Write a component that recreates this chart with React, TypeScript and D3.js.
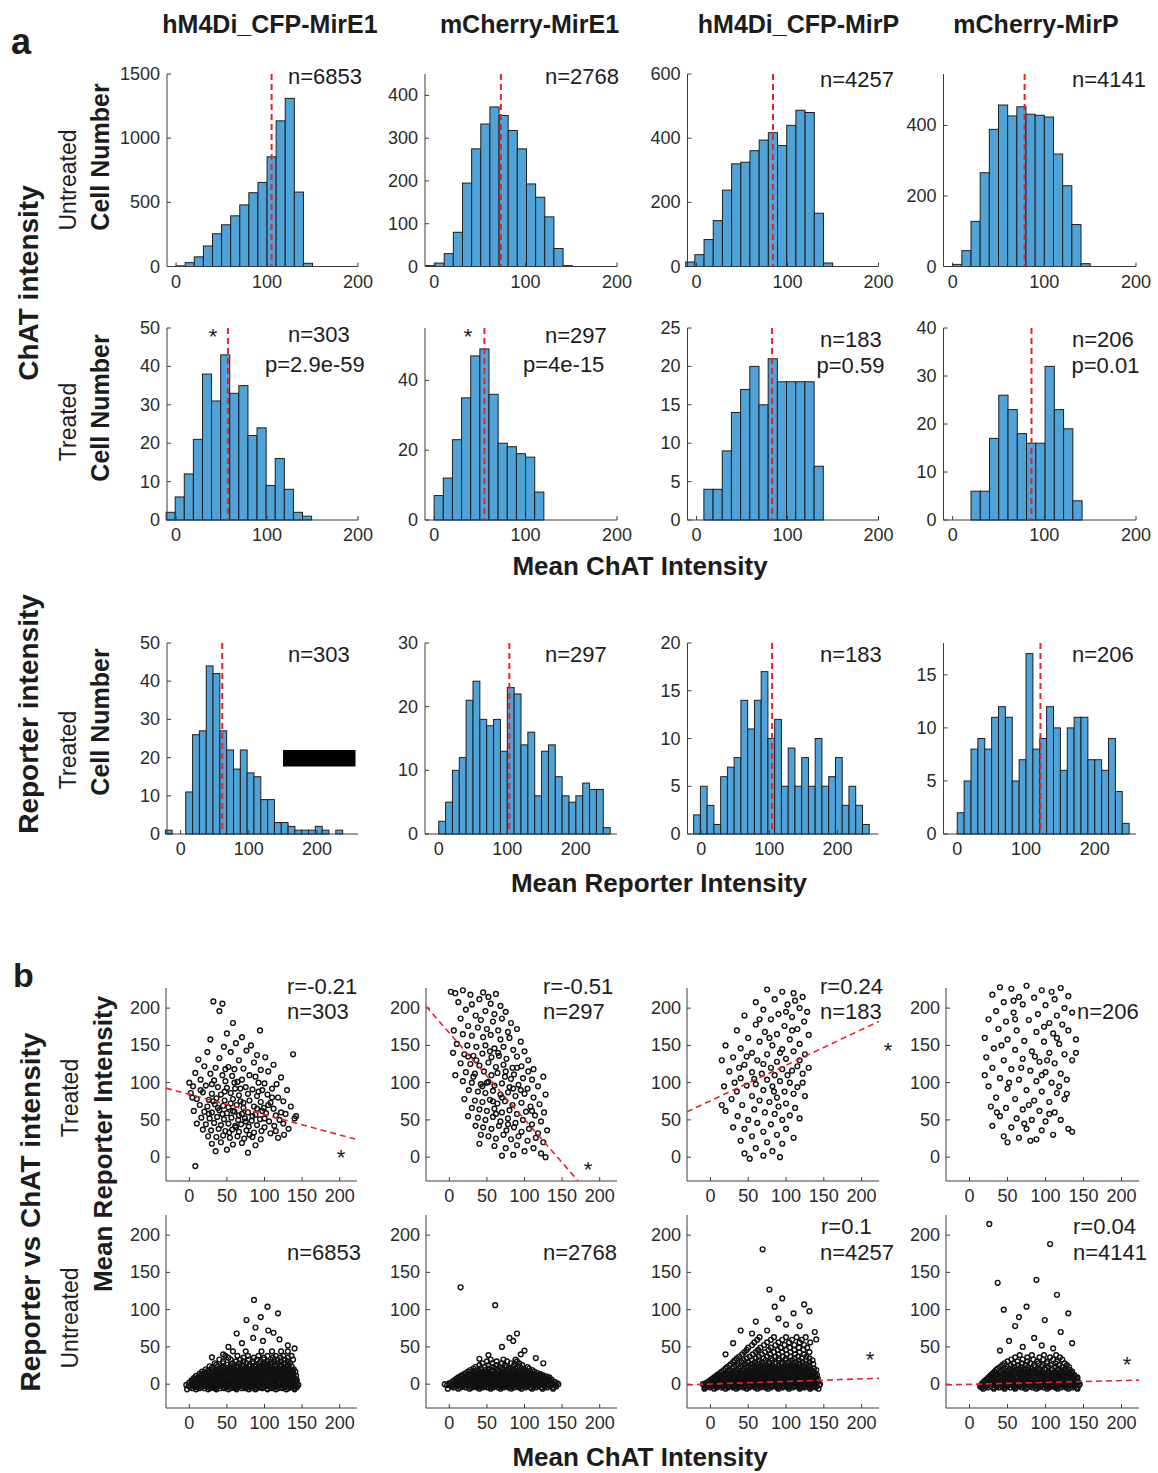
import React from "react";
import * as d3 from "d3";

const FONT = '"Liberation Sans", Arial, Helvetica, sans-serif';
const BAR = "#4fa3d9";
const RED = "#e5232a";
const INK = "#1c1c1c";
const AX = "#3c3c3c";

const columns = ["hM4Di_CFP-MirE1", "mCherry-MirE1", "hM4Di_CFP-MirP", "mCherry-MirP"];

// ---------- Row 1: untreated, ChAT intensity ----------
const untreatedChatCounts = [
  [5, 30, 75, 160, 255, 325, 395, 480, 575, 655, 855, 1135, 1310, 580, 25],
  [2, 8, 30, 80, 195, 275, 333, 373, 353, 318, 275, 193, 162, 116, 42, 2],
  [14, 37, 84, 143, 238, 320, 325, 361, 394, 417, 377, 440, 487, 480, 166, 11],
  [6, 45, 128, 266, 389, 458, 427, 453, 432, 429, 424, 319, 229, 119, 8],
];
const untreatedChatBinStart = [0, -9, -12, 0];
const untreatedChatBinWidth = [10, 10, 10.1, 10];
const untreatedChatMean = [105, 73, 84, 78.5];
const untreatedChatYMax = [1500, 450, 600, 546];
const untreatedChatYTicks = [[0, 500, 1000, 1500], [0, 100, 200, 300, 400], [0, 200, 400, 600], [0, 200, 400]];
const untreatedN = ["n=6853", "n=2768", "n=4257", "n=4141"];

// ---------- Row 2: treated, ChAT intensity ----------
const treatedChatCounts = [
  [2, 6, 12, 21, 38, 31, 43, 33, 35, 22, 24, 9, 16, 8, 2, 1],
  [7, 12, 23, 35, 47, 49, 36, 22, 21, 19, 18, 8],
  [4, 4, 9, 14, 17, 20, 15, 21, 18, 18, 18, 18, 7],
  [6, 6, 17, 26, 23, 18, 16, 16, 32, 23, 19, 4],
];
const treatedChatBinStart = [-11, 0, 8, 20];
const treatedChatBinWidth = [10, 10, 10.1, 10.1];
const treatedChatMean = [57, 55, 83, 86];
const treatedChatYMax = [50, 55, 25, 40];
const treatedChatYTicks = [[0, 10, 20, 30, 40, 50], [0, 20, 40], [0, 5, 10, 15, 20, 25], [0, 10, 20, 30, 40]];
const treatedN = ["n=303", "n=297", "n=183", "n=206"];
const treatedP = ["p=2.9e-59", "p=4e-15", "p=0.59", "p=0.01"];
const treatedStarred = [true, true, false, false];

// ---------- Row 3: treated, reporter intensity ----------
const reporterCounts = [
  [1, 0, 0, 11, 26, 27, 44, 42, 27, 22, 17, 22, 16, 15, 9, 9, 3, 3, 2, 1, 1, 1, 2, 1, 0, 1],
  [2, 5, 10, 12, 21, 24, 18, 17, 18, 13, 23, 22, 14, 16, 6, 13, 14, 9, 6, 5, 6, 8, 7, 7, 1],
  [2, 5, 3, 1, 6, 7, 8, 14, 11, 14, 17, 10, 12, 5, 9, 5, 8, 5, 10, 5, 6, 8, 3, 5, 3, 1],
  [2, 5, 8, 9, 8, 11, 12, 11, 5, 7, 17, 8, 9, 12, 10, 6, 10, 11, 11, 7, 7, 6, 9, 4, 1],
];
const reporterBinStart = [-22.5, 0, -11, 0];
const reporterBinWidth = [10, 10, 9.9, 10];
const reporterMean = [61, 103, 104, 121];
const reporterYMax = [50, 30, 20, 18];
const reporterYTicks = [[0, 10, 20, 30, 40, 50], [0, 10, 20, 30], [0, 5, 10, 15, 20], [0, 5, 10, 15]];

// ---------- Row 4: treated scatter (ChAT x, Reporter y) ----------
const treatedScatter1 = [
  [32,209],[44,206],[40,196],[58,180],[94,170],[50,166],[70,161],[28,158],[62,153],[82,150],[138,138],[46,148],[55,141],[24,141],[76,143],[90,137],[101,134],[12,131],[40,133],[66,130],[86,127],[112,124],[20,122],[35,120],[52,121],[60,118],[72,119],[95,117],[105,115],[8,113],[28,112],[44,110],[57,109],[80,110],[88,108],[122,107],[15,104],[33,103],[48,102],[64,101],[70,104],[92,100],[100,99],[116,98],[5,95],[22,96],[38,94],[50,93],[61,92],[75,94],[84,91],[97,90],[110,92],[130,90],[2,86],[18,87],[30,85],[42,84],[55,86],[66,83],[78,85],[90,82],[104,84],[118,80],[10,78],[26,77],[36,79],[47,76],[58,78],[68,75],[80,76],[95,74],[108,73],[125,75],[14,70],[24,68],[34,71],[45,69],[52,67],[63,70],[72,66],[86,68],[99,66],[112,65],[135,68],[6,62],[20,61],[30,60],[40,63],[50,59],[60,61],[70,58],[78,60],[88,57],[102,59],[115,56],[128,58],[16,53],[27,52],[37,54],[46,51],[56,53],[65,50],[74,52],[83,49],[94,51],[106,48],[120,50],[140,52],[10,45],[22,44],[33,46],[42,43],[52,45],[61,42],[69,44],[79,41],[90,43],[100,40],[113,42],[125,45],[18,37],[29,36],[39,38],[48,35],[57,37],[66,34],[76,36],[86,33],[96,35],[108,32],[132,38],[25,28],[36,27],[45,29],[54,26],[64,28],[73,25],[84,27],[95,24],[118,26],[30,18],[42,20],[58,17],[70,19],[88,16],[50,10],[35,8],[78,6],[8,-12],[4,80],[0,100],[115,35],[122,60],[142,55],[105,70],[92,88],[60,100],[48,118],[30,98],[15,90],[84,55],[75,48],[44,58],[55,72],[38,66],[62,40],[97,62],[110,80],[26,58],[68,92],[53,33],[80,30],[100,52],[126,30],[47,88],[32,75],[58,62],[72,73],[90,65],[66,56]
];
const treatedScatter2 = [
  [2,222],[8,220],[18,224],[28,218],[45,221],[52,215],[62,219],[40,212],[12,208],[30,205],[55,206],[68,203],[22,198],[48,196],[60,192],[75,195],[35,190],[15,186],[42,184],[58,182],[70,186],[82,180],[25,176],[38,174],[50,172],[65,170],[78,168],[90,172],[18,165],[30,163],[45,161],[55,164],[68,158],[80,160],[95,155],[10,152],[24,150],[36,148],[48,150],[60,146],[72,148],[85,144],[100,142],[20,138],[32,136],[44,139],[56,134],[66,136],[76,132],[90,135],[105,130],[15,126],[28,125],[40,123],[52,127],[62,121],[72,124],[84,120],[96,122],[112,118],[22,114],[34,112],[46,115],[56,110],[64,113],[74,108],[86,111],[98,106],[110,104],[125,108],[18,102],[30,100],[42,98],[52,101],[60,96],[70,99],[80,94],[92,97],[104,92],[118,95],[26,90],[38,88],[48,86],[58,89],[68,84],[78,87],[88,82],[100,85],[112,80],[128,84],[20,78],[34,76],[44,74],[54,77],[64,72],[74,75],[84,70],[96,73],[108,68],[120,71],[30,66],[40,64],[50,62],[60,65],[70,60],[80,63],[90,58],[102,61],[114,56],[126,60],[25,55],[38,53],[48,50],[58,54],[68,48],[78,52],[88,46],[98,50],[110,44],[122,48],[35,42],[45,40],[56,38],[66,42],[76,36],[86,40],[96,34],[106,38],[118,32],[130,36],[42,30],[52,28],[62,25],[72,30],[82,24],[92,28],[104,22],[115,26],[125,20],[60,15],[75,12],[90,16],[100,8],[112,12],[122,5],[85,3],[128,0],[70,2],[40,18],[50,100],[36,130],[6,170],[5,140],[90,120],[105,115],[8,110],[65,140],[75,115],[82,105],[95,90],[110,62],[58,75],[44,95],[32,108],[25,135],[54,142],[85,92],[70,80],[62,58],[78,44]
];
const treatedScatter3 = [
  [75,225],[95,222],[110,220],[122,215],[85,212],[60,208],[102,205],[118,200],[70,198],[128,195],[90,192],[45,190],[108,188],[80,185],[124,182],[60,178],[98,176],[115,172],[35,170],[72,168],[88,165],[130,164],[50,160],[105,158],[20,150],[65,155],[82,150],[118,152],[40,146],[95,145],[110,142],[55,140],[75,138],[125,138],[15,130],[30,134],[62,130],[88,128],[100,132],[70,125],[45,124],[115,122],[80,120],[95,118],[108,116],[25,115],[55,114],[68,112],[85,110],[122,112],[40,106],[75,104],[92,102],[105,100],[60,98],[18,95],[48,96],[82,95],[115,94],[35,88],[70,90],[98,88],[110,85],[55,82],[88,80],[125,82],[28,78],[65,76],[78,74],[100,72],[42,70],[90,68],[112,66],[20,62],[58,64],[72,60],[85,58],[105,56],[36,55],[50,50],[95,50],[118,52],[62,46],[80,44],[30,40],[45,38],[100,38],[70,34],[88,30],[55,28],[110,26],[40,22],[75,20],[95,18],[60,12],[82,8],[45,5],[70,2],[92,0],[52,-2],[108,170],[65,185],[48,135],[92,140],[78,160],[102,110],[38,120],[58,105],[84,88],[122,100],[15,70],[118,130],[130,120],[32,100],[100,195],[112,210]
];
const treatedScatter4 = [
  [40,228],[55,226],[75,230],[95,224],[108,222],[120,227],[30,218],[65,215],[85,214],[112,212],[130,216],[45,208],[70,205],[100,204],[125,200],[35,196],[58,194],[90,192],[115,190],[135,194],[25,185],[48,182],[78,184],[105,180],[122,178],[38,172],[62,170],[88,168],[110,166],[130,170],[20,160],[50,158],[72,156],[98,155],[118,152],[140,158],[32,146],[60,144],[82,142],[105,140],[125,138],[22,134],[45,130],[70,132],[92,128],[112,126],[135,130],[30,120],[55,118],[80,116],[100,114],[120,112],[40,106],[65,104],[88,102],[108,100],[128,104],[25,95],[50,92],[75,90],[95,88],[115,86],[35,80],[60,78],[85,76],[105,74],[125,78],[28,68],[48,66],[70,64],[92,62],[112,60],[40,55],[62,52],[82,50],[100,48],[120,50],[30,42],[55,40],[75,38],[95,36],[130,38],[45,28],[65,26],[88,24],[110,30],[50,20],[80,22],[135,34],[58,210],[98,175],[42,150],[115,160],[68,120],[86,135],[52,100],[102,130],[78,70],[118,95],[36,60],[95,110],[60,185],[128,85],[20,110],[140,140],[105,58],[72,45]
];
const treatedR = ["r=-0.21", "r=-0.51", "r=0.24", ""];
const treatedFit = [[84.3, -0.272], [166.7, -1.16], [75.6, 0.478], null];

// ---------- Row 5: untreated scatter; rows are [reporter, ...ChAT values] ----------
const untreatedRows1 = [
  [-7, -3,9,25,36,52,63,79,88,104,115,129,140],
  [-5.5, 4,13,20,28,34,41,47,55,61,70,75,83,90,97,104,110,118,124,132,140],
  [-4, 1,10,16,24,31,36,45,50,59,64,73,78,87,94,99,108,113,122,127,136,143],
  [-2.5, -1,7,14,21,28,34,42,49,56,63,69,77,84,91,97,104,112,118,126,133,141],
  [-1, -4,4,13,18,27,32,41,48,53,62,67,76,81,90,95,102,111,116,125,130,139,145],
  [0.5, 3,10,17,24,31,39,45,53,59,66,72,80,86,95,101,107,115,121,129,136,143],
  [2, 0,7,15,21,28,37,42,51,56,65,70,79,84,93,98,105,114,119,126,133,140],
  [3.5, 4,13,19,25,32,40,45,53,58,66,72,80,86,93,100,107,112,120,126,134,141],
  [5, 3,11,17,26,33,39,47,54,60,68,73,82,88,95,101,109,115,123,128,137,143],
  [6.5, 8,16,24,31,38,46,52,60,66,74,79,87,94,101,107,114,121,128,134,142],
  [8, 6,13,22,29,35,44,49,58,63,71,77,86,91,100,104,112,118,126,131,139],
  [9.5, 12,20,27,35,42,50,57,63,70,77,84,91,97,105,111,118,125,132,139],
  [11, 9,18,24,32,40,46,55,61,67,75,80,89,94,103,108,116,121,129,135,142],
  [12.5, 16,24,33,40,47,54,61,68,74,82,88,95,101,108,114,121,128,135],
  [14, 14,21,30,37,43,52,58,66,70,79,85,92,98,106,111,119,124,132,138],
  [15.5, 20,29,37,45,52,59,66,73,80,87,93,100,106,112,118,125,131,138],
  [17, 17,27,34,42,49,56,63,71,76,83,90,97,102,109,115,122,128,135,141],
  [18.5, 25,34,44,51,59,66,72,79,86,93,99,105,111,118,124,130,137],
  [20, 22,31,40,47,55,61,69,75,82,88,95,101,107,114,120,127,133,139],
  [22, 30,42,51,59,68,76,84,91,98,104,111,118,125,132],
  [24, 27,38,46,55,64,72,79,87,94,100,108,115,121,129,136],
  [26, 36,50,60,70,80,89,97,105,114,122,131],
  [28, 34,45,57,66,76,85,93,101,110,118,126,134],
  [30.5, 45,62,72,84,95,104,113,122,131],
  [33, 40,55,68,79,90,99,108,117,127,138],
  [35.5, 52,72,86,99,111,121,131],
  [38, 48,64,78,92,104,115,125,136],
  [44, 58,75,96,110,122,131],
];
const untreatedOut1 = [[52,50],[70,55],[98,58],[85,62],[120,60],[63,68],[105,72],[131,52],[88,76],[112,69],[76,86],[95,90],[104,104],[86,113],[118,95],[140,48],[45,40],[30,36]];
const untreatedRows2 = [
  [-6, -2,12,27,40,55,68,82,96,110,124,138],
  [-4.5, 6,15,22,30,37,44,51,58,65,72,79,86,93,101,108,115,123,130,138],
  [-3, 3,10,18,25,33,39,47,54,61,69,75,83,90,97,104,112,119,127,134,142],
  [-1.5, -3,4,11,18,26,33,40,47,54,61,68,75,82,89,97,104,111,118,126,133,141],
  [0, -6,1,7,14,22,29,36,43,50,57,64,71,78,86,93,100,107,115,122,130,137,145],
  [1.5, 0,8,15,22,29,36,43,50,57,64,71,78,85,92,99,106,113,120,128,135,143],
  [3, 4,11,19,26,32,40,46,53,60,67,74,81,88,95,102,109,117,124,132,140],
  [4.5, 6,13,21,28,35,42,49,56,63,70,77,84,91,98,105,112,119,126,134],
  [6, 8,15,23,30,37,44,51,58,65,72,79,85,92,99,106,113,121,128,136],
  [7.5, 10,18,25,32,39,46,53,60,67,74,81,88,95,102,109,116,123,131],
  [9, 12,20,28,35,41,49,56,63,70,77,83,90,97,104,111,119,126,133],
  [10.5, 15,23,30,37,44,51,58,65,72,79,86,93,100,107,114,122,129],
  [12, 17,25,33,40,47,54,61,68,74,81,88,95,102,109,116,124],
  [13.5, 20,28,36,43,50,57,64,71,78,85,92,99,106,113,121],
  [15, 22,31,39,46,53,60,67,73,80,87,94,101,108,117],
  [17, 25,34,42,50,58,65,72,80,88,96,104,113],
  [19, 28,38,48,56,64,71,78,86,93,101,110],
  [21, 32,42,52,61,70,79,88,97,106],
  [23, 35,47,58,67,76,85,94,104],
  [25.5, 40,52,63,74,86,97],
  [28, 44,57,70,82,93],
  [30.5, 50,63,77,90],
  [33, 55,72,88],
];
const untreatedOut2 = [[15,130],[61,106],[80,62],[90,68],[85,58],[52,39],[100,45],[70,50],[115,35],[40,34],[125,28],[95,40]];
const untreatedRows3 = [
  [-6, -8,5,20,34,48,62,76,90,104,118,132,143],
  [-4.5, -7,0,8,15,23,30,37,44,51,59,66,73,80,88,95,102,109,117,124,131,139],
  [-3, -5,2,9,17,24,31,38,45,53,60,67,74,81,89,96,103,111,118,125,133,140],
  [-1.5, -8,-1,7,14,22,29,36,44,51,58,65,72,80,87,94,101,109,116,123,131,138,144],
  [0, -10,-2,6,13,20,28,35,42,49,57,64,71,78,86,93,100,107,115,122,129,137,145],
  [1.5, -6,1,8,15,22,30,37,44,52,59,66,73,80,88,95,102,110,117,124,131,139],
  [3, -3,4,11,18,26,33,40,47,55,62,69,76,84,91,98,105,113,120,127,135,142],
  [4.5, -1,7,14,21,28,35,43,50,57,65,72,79,86,94,101,108,116,123,130,138],
  [6, 1,9,16,23,30,38,45,52,60,67,74,81,89,96,103,110,118,125,132,140],
  [7.5, 3,11,18,25,32,40,47,54,62,69,76,83,91,98,105,112,120,127,134,142],
  [9, 5,13,20,27,34,42,49,56,64,71,78,86,93,100,107,115,122,130,137],
  [10.5, 7,15,22,29,36,44,51,58,66,73,80,88,95,102,109,117,124,132,139],
  [12, 9,17,24,31,39,46,53,61,68,75,83,90,97,104,112,119,127,134,141],
  [13.5, 11,19,27,34,41,48,55,63,70,77,85,92,99,106,114,121,129,136],
  [15, 13,21,29,36,43,51,58,65,72,80,87,94,101,109,116,124,131,138],
  [17, 15,23,31,39,47,54,61,69,76,84,91,98,106,113,121,128,136],
  [19, 18,26,34,42,50,57,65,72,80,87,95,102,110,118,125,133,140],
  [21, 20,29,37,45,53,60,68,76,83,91,98,106,113,121,129,137],
  [23, 22,31,40,48,56,63,71,79,86,94,101,109,117,124,132],
  [25, 25,34,43,51,59,67,75,82,90,98,106,114,122,130],
  [27, 27,37,46,54,62,70,78,86,94,102,110,118,127,136],
  [29.5, 30,41,50,59,68,77,86,95,104,113,122,131],
  [32, 32,44,55,64,73,82,91,99,108,117,126,135],
  [34.5, 35,48,60,70,80,90,100,111,121,131],
  [37, 38,52,64,75,86,96,106,116,127],
  [40, 42,56,68,79,90,101,112,124],
  [43, 45,60,72,84,95,106,118,131],
  [46, 48,63,77,89,100,111,123],
  [49, 50,66,80,93,105,117,128],
  [52.5, 55,71,86,98,111,124],
  [56, 58,75,90,104,118,132],
  [59.5, 62,80,95,108,121],
  [63, 65,84,100,114,126],
];
const untreatedOut3 = [[69,181],[78,127],[124,107],[131,98],[110,95],[90,88],[60,84],[40,72],[100,80],[118,78],[75,72],[138,70],[55,68],[85,104],[30,55],[20,40],[140,60],[95,115]];
const untreatedRows4 = [
  [-6, 18,32,46,60,74,88,102,116,130,142],
  [-4.5, 16,24,31,39,46,54,61,69,76,83,91,98,105,113,120,127,135,141],
  [-3, 14,21,28,36,43,50,58,65,72,80,87,94,102,109,116,124,131,138],
  [-1.5, 15,22,29,37,44,51,59,66,73,81,88,95,103,110,117,125,132,139,144],
  [0, 16,23,30,38,45,52,60,67,74,82,89,96,104,111,118,126,133,140,145],
  [1.5, 17,24,32,39,46,54,61,68,76,83,90,98,105,112,120,127,134,142],
  [3, 19,26,33,41,48,55,63,70,77,85,92,99,107,114,121,129,136,143],
  [4.5, 20,28,35,42,50,57,64,72,79,86,94,101,108,116,123,130,138],
  [6, 22,29,36,44,51,58,66,73,80,88,95,102,110,117,124,132,139],
  [7.5, 24,31,38,46,53,60,68,75,82,90,97,104,112,119,126,134,141],
  [9, 25,32,40,47,54,62,69,76,84,91,98,106,113,120,128,135,142],
  [10.5, 27,34,41,49,56,63,71,78,85,93,100,107,115,122,129,137],
  [12, 28,35,43,50,57,65,72,79,87,94,101,109,116,123,131,138],
  [13.5, 30,37,45,52,59,67,74,81,89,96,103,111,118,125,132],
  [15, 31,39,46,54,61,68,76,83,90,98,105,112,120,127,134],
  [17, 33,41,49,57,65,72,80,88,96,104,112,120,128,135],
  [19, 35,44,52,60,68,76,84,92,100,108,116,124,132],
  [21, 37,47,56,64,72,81,90,99,108,117,126],
  [23, 40,50,59,68,77,86,95,104,113,122,131],
  [25.5, 43,54,64,74,85,96,107,118,128],
  [28, 46,58,69,80,91,102,113,125],
  [30.5, 50,63,76,89,102,115],
  [33, 55,70,84,97,110,122],
  [36, 60,76,92,106,119],
  [39, 66,82,98,114],
];
const untreatedOut4 = [[26,215],[106,188],[37,136],[75,104],[99,86],[60,78],[115,120],[45,100],[85,62],[120,70],[130,95],[52,58],[70,50],[95,52],[110,48],[40,45],[135,55],[88,140],[65,90]];
const untreatedR = ["", "", "r=0.1", "r=0.04"];
const untreatedFit = [null, null, [0.1, 0.035], [-0.2, 0.025]];

const scatterTicks = [0, 50, 100, 150, 200];

// ---------- Layout ----------
const histCols = [[167, 358], [425, 617], [687.5, 878.5], [943.5, 1136]];
const histRows = [[74, 266.5], [328, 520], [643, 834]];
const scatCols = [[166, 357], [426, 617], [687, 879], [946, 1139]];
const scatRows = [[988, 1181], [1215, 1408]];
const histTextX = [288, 545, 820, 1072];
const row1TextY = [84, 84, 86.5, 86.5];
const row2PX = [265, 523, 816.5, 1071.5];
const row2NY = [342, 343, 346.5, 346.5];
const row2PY = [371.5, 372, 373.3, 373.3];
const row2StarPos = [[213, 344], [468, 344]];
const scatTextX = [287, 543, 820, 1076];
const scatStarTreated = [[341, 1165], [588, 1177], [888, 1058], null];
const scatStarUntreated = [null, null, [870, 1367], [1127, 1372]];

function Txt(props: any) {
  const { x, y, children, size = 22, weight = "normal", anchor = "start", rotate = false, fill = INK, baseline } = props;
  return (
    <text
      x={rotate ? 0 : x}
      y={rotate ? 0 : y}
      transform={rotate ? `translate(${x},${y}) rotate(-90)` : undefined}
      fontSize={size}
      fontWeight={weight}
      textAnchor={anchor}
      dominantBaseline={baseline}
      fill={fill}
      fontFamily={FONT}
    >
      {children}
    </text>
  );
}

function Axes({ xs, ys, xTicks, yTicks, x0, x1, y0, y1, tick = 4, yGap = 7 }: any) {
  return (
    <g>
      <line x1={x0} x2={x0} y1={y0} y2={y1} stroke={AX} strokeWidth={1} />
      <line x1={x0} x2={x1} y1={y1} y2={y1} stroke={AX} strokeWidth={1} />
      {yTicks.map((t: number) => (
        <g key={"y" + t}>
          <line x1={x0} x2={x0 + tick} y1={ys(t)} y2={ys(t)} stroke={AX} />
          <text x={x0 - yGap} y={ys(t)} fontSize={18} textAnchor="end" dominantBaseline="central" fill="#2a2a2a" fontFamily={FONT}>{t}</text>
        </g>
      ))}
      {xTicks.map((t: number) => (
        <g key={"x" + t}>
          <line x1={xs(t)} x2={xs(t)} y1={y1} y2={y1 - tick} stroke={AX} />
          <text x={xs(t)} y={y1 + 21} fontSize={18} textAnchor="middle" fill="#2a2a2a" fontFamily={FONT}>{t}</text>
        </g>
      ))}
    </g>
  );
}

function Hist({ col, row, xDomain, yMax, yTicks, counts, binStart, binWidth, mean }: any) {
  const [x0, x1] = col;
  const [y0, y1] = row;
  const xs = d3.scaleLinear().domain(xDomain).range([x0, x1]);
  const ys = d3.scaleLinear().domain([0, yMax]).range([y1, y0]);
  return (
    <g>
      {counts.map((c: number, i: number) =>
        c > 0 ? (
          <rect
            key={i}
            x={xs(binStart + i * binWidth)}
            width={xs(binStart + (i + 1) * binWidth) - xs(binStart + i * binWidth)}
            y={ys(c)}
            height={ys(0) - ys(c)}
            fill={BAR}
            stroke="#1e1e1e"
            strokeWidth={1}
          />
        ) : null
      )}
      <Axes xs={xs} ys={ys} xTicks={[0, 100, 200]} yTicks={yTicks} x0={x0} x1={x1} y0={y0} y1={y1} />
      <line x1={xs(mean)} x2={xs(mean)} y1={y0} y2={y1} stroke={RED} strokeWidth={2} strokeDasharray="6,4" />
    </g>
  );
}

function expandRows(rows: number[][], out: number[][]) {
  const pts: number[][] = [];
  rows.forEach((r) => {
    const [y, ...xs] = r;
    xs.forEach((x) => pts.push([x, y]));
  });
  return pts.concat(out);
}

function Scatter({ id, col, row, points, fit }: any) {
  const [x0, x1] = col;
  const [y0, y1] = row;
  const xs = d3.scaleLinear().domain([-31, 223]).range([x0, x1]);
  const ys = d3.scaleLinear().domain([-32, 227]).range([y1, y0]);
  const line = fit
    ? d3.line<number>().x((v) => xs(v)).y((v) => ys(fit[0] + fit[1] * v))([-31, 223])
    : null;
  return (
    <g>
      <defs>
        <clipPath id={id}>
          <rect x={x0} y={y0} width={x1 - x0} height={y1 - y0} />
        </clipPath>
      </defs>
      <Axes xs={xs} ys={ys} xTicks={scatterTicks} yTicks={scatterTicks} x0={x0} x1={x1} y0={y0} y1={y1} yGap={6} />
      {points.map((p: number[], i: number) => (
        <circle key={i} cx={xs(p[0])} cy={ys(p[1])} r={2.4} fill="none" stroke="#111" strokeWidth={1.4} />
      ))}
      {line ? <path d={line || ""} clipPath={`url(#${id})`} stroke={RED} strokeWidth={1.6} strokeDasharray="6,4" fill="none" /> : null}
    </g>
  );
}

export default function App() {
  const treatedPts = [treatedScatter1, treatedScatter2, treatedScatter3, treatedScatter4];
  const untreatedPts = [
    expandRows(untreatedRows1, untreatedOut1),
    expandRows(untreatedRows2, untreatedOut2),
    expandRows(untreatedRows3, untreatedOut3),
    expandRows(untreatedRows4, untreatedOut4),
  ];
  const headerX = [270, 529.5, 798.5, 1036];
  return (
    <svg width={1158} height={1473} style={{ position: "absolute", left: 0, top: 0, background: "#fff" }} fontFamily={FONT}>
      <rect x={0} y={0} width={1158} height={1473} fill="#fff" />
      {columns.map((c, i) => (
        <Txt key={c} x={headerX[i]} y={33} size={25} weight="bold" anchor="middle">{c}</Txt>
      ))}
      <Txt x={11} y={54} size={36} weight="bold">a</Txt>
      <Txt x={13} y={987} size={34} weight="bold">b</Txt>

      {/* left labels */}
      <Txt x={28} y={283} size={28} weight="bold" anchor="middle" rotate baseline="central">ChAT intensity</Txt>
      <Txt x={68} y={180} size={23} anchor="middle" rotate baseline="central">Untreated</Txt>
      <Txt x={100} y={157} size={25} weight="bold" anchor="middle" rotate baseline="central">Cell Number</Txt>
      <Txt x={68} y={422} size={23} anchor="middle" rotate baseline="central">Treated</Txt>
      <Txt x={100} y={408} size={25} weight="bold" anchor="middle" rotate baseline="central">Cell Number</Txt>
      <Txt x={28} y={714} size={28} weight="bold" anchor="middle" rotate baseline="central">Reporter intensity</Txt>
      <Txt x={68} y={750} size={23} anchor="middle" rotate baseline="central">Treated</Txt>
      <Txt x={100} y={722} size={25} weight="bold" anchor="middle" rotate baseline="central">Cell Number</Txt>
      <Txt x={30} y={1212} size={28} weight="bold" anchor="middle" rotate baseline="central">Reporter vs ChAT intensity</Txt>
      <Txt x={70} y={1098} size={23} anchor="middle" rotate baseline="central">Treated</Txt>
      <Txt x={70} y={1318} size={23} anchor="middle" rotate baseline="central">Untreated</Txt>
      <Txt x={103} y={1144} size={26} weight="bold" anchor="middle" rotate baseline="central">Mean Reporter Intensity</Txt>

      <Txt x={640} y={575} size={26} weight="bold" anchor="middle">Mean ChAT Intensity</Txt>
      <Txt x={659} y={892} size={26} weight="bold" anchor="middle">Mean Reporter Intensity</Txt>
      <Txt x={640} y={1466} size={26} weight="bold" anchor="middle">Mean ChAT Intensity</Txt>

      {/* Row 1 */}
      {untreatedChatCounts.map((counts, i) => (
        <g key={"r1" + i}>
          <Hist col={histCols[i]} row={histRows[0]} xDomain={[-10, 200]} yMax={untreatedChatYMax[i]} yTicks={untreatedChatYTicks[i]}
            counts={counts} binStart={untreatedChatBinStart[i]} binWidth={untreatedChatBinWidth[i]} mean={untreatedChatMean[i]} />
          <Txt x={histTextX[i]} y={row1TextY[i]}>{untreatedN[i]}</Txt>
        </g>
      ))}

      {/* Row 2 */}
      {treatedChatCounts.map((counts, i) => (
        <g key={"r2" + i}>
          <Hist col={histCols[i]} row={histRows[1]} xDomain={[-10, 200]} yMax={treatedChatYMax[i]} yTicks={treatedChatYTicks[i]}
            counts={counts} binStart={treatedChatBinStart[i]} binWidth={treatedChatBinWidth[i]} mean={treatedChatMean[i]} />
          <Txt x={histTextX[i]} y={row2NY[i]}>{treatedN[i]}</Txt>
          <Txt x={row2PX[i]} y={row2PY[i]}>{treatedP[i]}</Txt>
          {treatedStarred[i] ? <Txt x={row2StarPos[i][0]} y={row2StarPos[i][1]} anchor="middle">*</Txt> : null}
        </g>
      ))}

      {/* Row 3 */}
      {reporterCounts.map((counts, i) => (
        <g key={"r3" + i}>
          <Hist col={histCols[i]} row={histRows[2]} xDomain={[-20, 260]} yMax={reporterYMax[i]} yTicks={reporterYTicks[i]}
            counts={counts} binStart={reporterBinStart[i]} binWidth={reporterBinWidth[i]} mean={reporterMean[i]} />
          <Txt x={histTextX[i]} y={662}>{treatedN[i]}</Txt>
        </g>
      ))}
      <rect x={283} y={750} width={72.5} height={16.5} fill="#000" />

      {/* Row 4: treated scatter */}
      {treatedPts.map((pts, i) => (
        <g key={"s1" + i}>
          <Scatter id={"clipT" + i} col={scatCols[i]} row={scatRows[0]} points={pts} fit={treatedFit[i]} />
          {treatedR[i] ? <Txt x={scatTextX[i]} y={994}>{treatedR[i]}</Txt> : null}
          <Txt x={i === 3 ? 1077 : scatTextX[i]} y={1019}>{treatedN[i]}</Txt>
          {scatStarTreated[i] ? <Txt x={scatStarTreated[i]![0]} y={scatStarTreated[i]![1]} anchor="middle">*</Txt> : null}
        </g>
      ))}

      {/* Row 5: untreated scatter */}
      {untreatedPts.map((pts, i) => (
        <g key={"s2" + i}>
          <Scatter id={"clipU" + i} col={scatCols[i]} row={scatRows[1]} points={pts} fit={untreatedFit[i]} />
          {untreatedR[i] ? <Txt x={i === 3 ? 1073 : 821} y={1234}>{untreatedR[i]}</Txt> : null}
          <Txt x={i === 3 ? 1073 : scatTextX[i]} y={1260}>{untreatedN[i]}</Txt>
          {scatStarUntreated[i] ? <Txt x={scatStarUntreated[i]![0]} y={scatStarUntreated[i]![1]} anchor="middle">*</Txt> : null}
        </g>
      ))}
    </svg>
  );
}
